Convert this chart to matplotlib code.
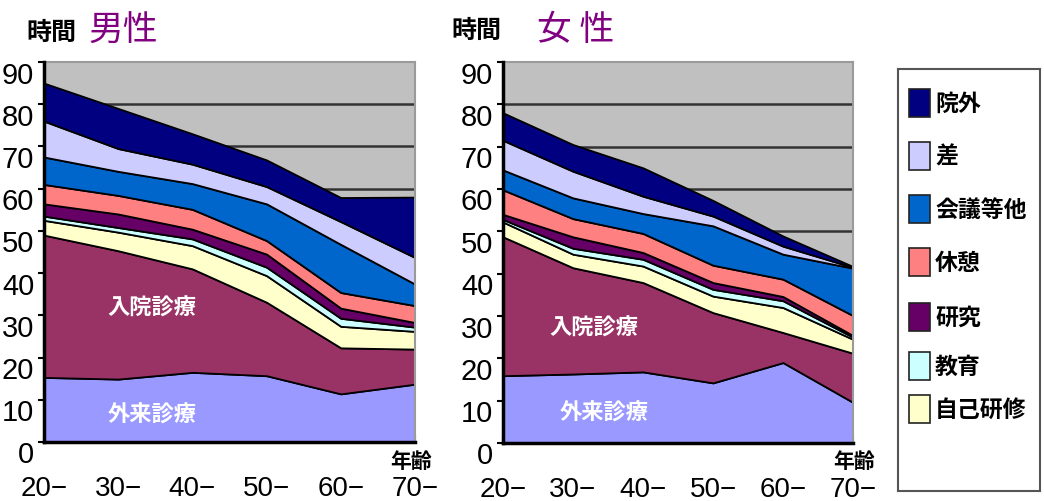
import matplotlib
matplotlib.use("Agg")
import matplotlib.pyplot as plt
from matplotlib.patches import Rectangle
from matplotlib.transforms import ScaledTranslation

plt.rcParams['font.family'] = ['Liberation Sans', 'Noto Sans CJK JP', 'DejaVu Sans']

# Age groups (x axis)
ages = ["20\u2212", "30\u2212", "40\u2212", "50\u2212", "60\u2212", "70\u2212"]

# Weekly hours by activity, stacked bottom to top
series_names = ["外来診療", "入院診療", "自己研修", "教育", "研究", "休憩", "会議等他", "差", "院外"]

male_outpatient = [15.3, 14.9, 16.5, 15.7, 11.4, 13.7]
male_inpatient = [33.7, 30.4, 24.5, 17.4, 10.9, 8.3]
male_selfstudy = [3.5, 4.4, 5.5, 6.3, 5.1, 4.2]
male_teaching = [1.0, 1.1, 1.6, 2.0, 1.9, 1.0]
male_research = [2.9, 3.2, 2.3, 3.1, 2.4, 1.1]
male_rest = [4.6, 4.4, 4.7, 3.2, 3.7, 4.0]
male_meetings = [6.5, 5.7, 6.1, 8.7, 11.4, 5.1]
male_gap = [8.5, 5.4, 4.6, 4.1, 5.4, 6.3]
male_outside = [9.0, 9.5, 7.2, 6.3, 5.7, 14.3]

female_outpatient = [15.9, 16.3, 16.8, 14.2, 19.0, 9.6]
female_inpatient = [32.8, 25.1, 21.1, 16.6, 7.1, 11.6]
female_selfstudy = [3.5, 3.2, 3.9, 3.9, 5.9, 3.3]
female_teaching = [0.6, 1.4, 1.6, 1.6, 1.6, 0.5]
female_research = [1.2, 2.7, 1.6, 1.6, 1.0, 0.4]
female_rest = [5.8, 4.3, 4.5, 4.1, 4.1, 4.7]
female_meetings = [4.7, 4.9, 4.7, 9.3, 5.9, 11.2]
female_gap = [7.0, 6.3, 4.1, 2.3, 1.9, 0.2]
female_outside = [6.5, 6.3, 6.7, 3.7, 2.4, 0.2]

y_ticks = [0, 10, 20, 30, 40, 50, 60, 70, 80, 90]

colors = ["#9999FF", "#993366", "#FFFFCC", "#CCFFFF", "#660066",
          "#FF8080", "#0066CC", "#CCCCFF", "#000080"]

male_layers = [male_outpatient, male_inpatient, male_selfstudy, male_teaching,
               male_research, male_rest, male_meetings, male_gap, male_outside]
female_layers = [female_outpatient, female_inpatient, female_selfstudy, female_teaching,
                 female_research, female_rest, female_meetings, female_gap, female_outside]

W, H = 1044, 502
fig = plt.figure(figsize=(W / 100, H / 100), dpi=100)
fig.patch.set_facecolor("white")


def px_axes(left, top, right, bottom):
    return fig.add_axes([left / W, 1 - bottom / H, (right - left) / W, (bottom - top) / H])


def draw_panel(ax, layers):
    x = list(range(len(ages)))
    ax.set_facecolor("#C0C0C0")
    for yv in y_ticks[1:-1]:
        ax.axhline(yv, color="#333333", lw=1.8, zorder=1)
    ax.stackplot(x, *layers, colors=colors, edgecolor="black", linewidth=1.3, zorder=2)
    ax.set_xlim(0, len(ages) - 1)
    ax.set_ylim(0, 90)
    ax.set_yticks(y_ticks)
    ax.set_yticklabels([str(v) for v in y_ticks])
    ax.set_xticks(x)
    ax.set_xticklabels(ages)
    ax.tick_params(axis="y", direction="out", length=4, width=1.5, labelsize=21, pad=3)
    ax.tick_params(axis="x", direction="in", length=6, width=1.5, labelsize=20, pad=24)
    shift = ScaledTranslation(0, -0.095, fig.dpi_scale_trans)
    for lab in ax.get_yticklabels():
        lab.set_transform(lab.get_transform() + shift)
    for side in ("left", "bottom"):
        ax.spines[side].set_color("black")
        ax.spines[side].set_linewidth(2.5)
    for side in ("top", "right"):
        ax.spines[side].set_color("#9a9a9a")
        ax.spines[side].set_linewidth(1.5)
    ax.spines["left"].set_zorder(5)
    ax.spines["bottom"].set_zorder(5)


ax_m = px_axes(44, 63, 415, 443)
draw_panel(ax_m, male_layers)
ax_f = px_axes(503, 63, 853, 444)
draw_panel(ax_f, female_layers)

# In-area labels
label_kw = dict(color="white", fontsize=16, fontweight="bold",
                ha="center", va="center", family=["Noto Sans CJK JP"], zorder=6)
ax_m.text(1.46, 32.0, series_names[1], **label_kw)
ax_m.text(1.46, 6.6, series_names[0], **label_kw)
ax_f.text(1.3, 27.4, series_names[1], **label_kw)
ax_f.text(1.45, 7.3, series_names[0], **label_kw)

# Headings
head_kw = dict(family=["Noto Sans CJK JP"], va="center")
fig.text(26 / W, 1 - 33 / H, "時間", fontsize=18, fontweight="bold", color="black", **head_kw)
fig.text(89 / W, 1 - 31 / H, "男性", fontsize=25, color="#800080", **head_kw)
fig.text(451 / W, 1 - 31 / H, "時間", fontsize=18, fontweight="bold", color="black", **head_kw)
fig.text(537 / W, 1 - 31 / H, "女 性", fontsize=25, color="#800080", **head_kw)

# Axis caption for age
fig.text(390 / W, 1 - 461 / H, "年齢", fontsize=15, fontweight="bold", color="black", **head_kw)
fig.text(833 / W, 1 - 461 / H, "年齢", fontsize=15, fontweight="bold", color="black", **head_kw)

# Legend panel
ax_leg = px_axes(898, 70, 1040, 492)
ax_leg.set_xlim(0, 142)
ax_leg.set_ylim(422, 0)
ax_leg.set_xticks([])
ax_leg.set_yticks([])
for sp in ax_leg.spines.values():
    sp.set_color("#555555")
    sp.set_linewidth(1.5)
legend_rows = [34, 87, 140, 193, 248, 297, 340]
for row_y, idx in zip(legend_rows, range(len(series_names) - 1, 1, -1)):
    ax_leg.add_patch(Rectangle((11, row_y - 14), 21, 28, facecolor=colors[idx],
                               edgecolor="#222222", lw=1.2))
    ax_leg.text(37, row_y, series_names[idx], fontsize=16.5, fontweight="bold",
                va="center", ha="left", family=["Noto Sans CJK JP"])

fig.savefig("out.png", dpi=100)
